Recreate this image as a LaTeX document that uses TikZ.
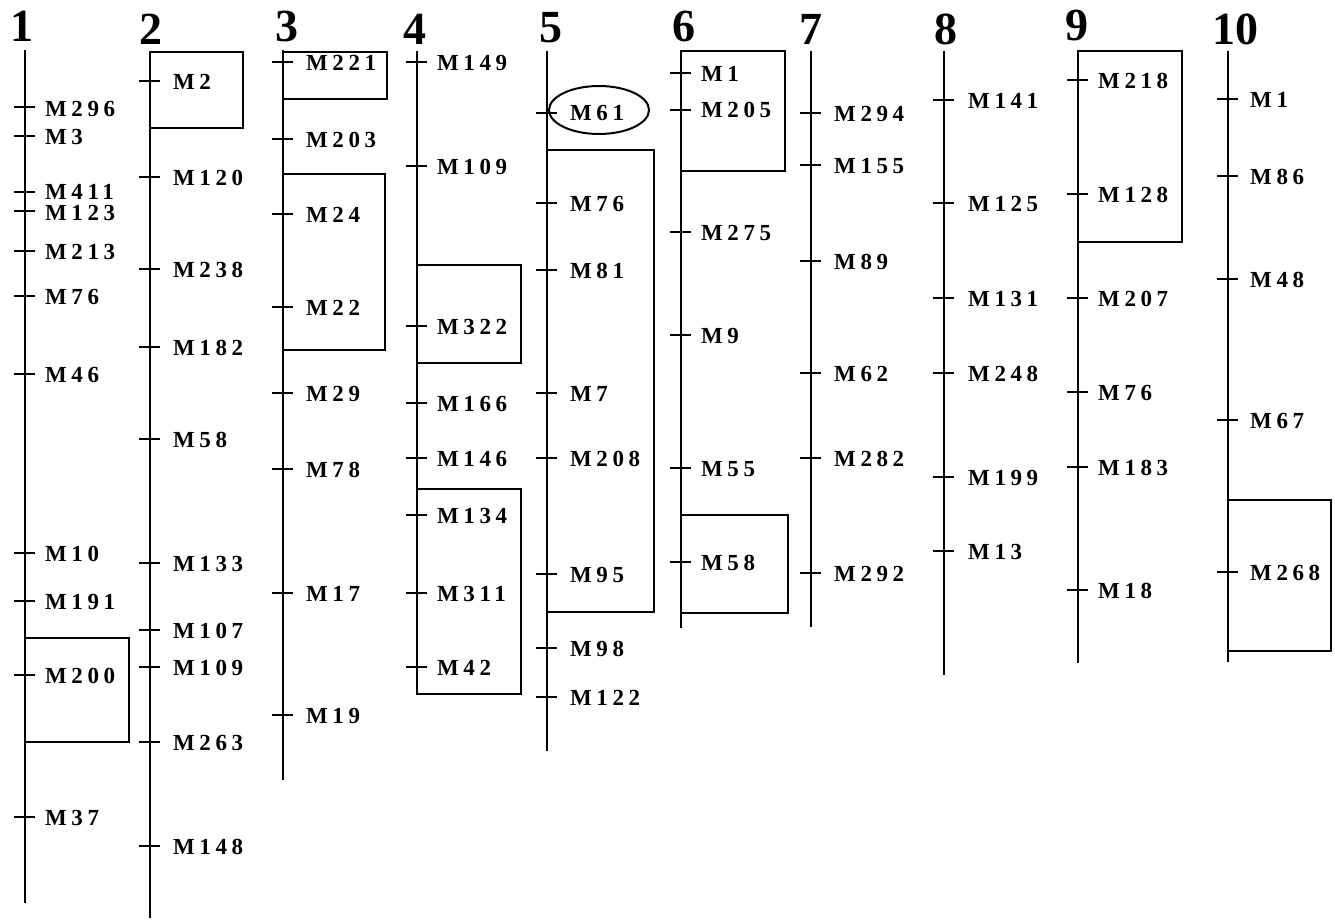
\documentclass[tikz,border=0pt]{standalone}
\usepackage{fontspec}
\setmainfont{Liberation Serif}
\newfontfamily\labfont[LetterSpace=20]{Liberation Serif}
\begin{document}
\begin{tikzpicture}[x=1pt,y=-1pt,
  chromline/.style={line width=2.8pt},
  tickline/.style={line width=2pt},
  regionbox/.style={line width=2pt},
  lab/.style={anchor=west,inner sep=0pt,font=\labfont\fontsize{23}{23}\selectfont\bfseries},
  head/.style={anchor=base,inner sep=0pt,font=\fontsize{46}{46}\selectfont\bfseries}]
\useasboundingbox (0,0) rectangle (1335,920);
% headers
\foreach \n/\hx/\hy in {1/22/42,2/151/45,3/287/42,4/415/45,5/551/43,6/684/42,7/811/45,8/946/45,9/1077/41,10/1235/45}
  \node[head] (h\n) at (\hx,\hy) {\n};
% chromosome lines
\foreach \n/\cx/\ta/\tb in {1/25/50/903,2/150/52/918,3/283/50/780,4/417/51/694,5/547/51/751,6/681/51/628,7/811/51/627,8/944/51/675,9/1078/51/663,10/1228/51/662}
  \draw[chromline] (\cx,\ta) -- (\cx,\tb);
% boxes
\draw[regionbox] (25,638) rectangle (129,742);
\draw[regionbox] (150,52) rectangle (243,128);
\draw[regionbox] (283,52) rectangle (387,99);
\draw[regionbox] (283,174) rectangle (385,350);
\draw[regionbox] (417,265) rectangle (521,363);
\draw[regionbox] (417,489) rectangle (521,694);
\draw[regionbox] (547,150) rectangle (654,612);
\draw[regionbox] (681,51) rectangle (785,171);
\draw[regionbox] (681,515) rectangle (788,613);
\draw[regionbox] (1078,51) rectangle (1182,242);
\draw[regionbox] (1228,500) rectangle (1331,651);
\draw[regionbox] (599,110) ellipse [x radius=50, y radius=24];
% markers: #1 chromosome, #2 line x, #3 label offset, #4 list tick-y/label-y/text
\newcommand\markers[4]{%
  \foreach \y/\ly/\t in {#4} {
    \draw[tickline] (#2-11,\y) -- (#2+10,\y);
    \node[lab] (m#1-\t) at (#2+#3,\ly) {\t};
  }}
\markers{1}{25}{20}{107/109/M296,136/137/M3,192/192/M411,211/213/M123,251/252/M213,296/297/M76,374/375/M46,553/554/M10,601/602/M191,675/676/M200,817/818/M37}
\markers{2}{150}{23}{81/82/M2,177/178/M120,269/270/M238,347/348/M182,439/440/M58,563/564/M133,630/631/M107,667/668/M109,742/743/M263,846/847/M148}
\markers{3}{283}{23}{62/63/M221,139/140/M203,214/215/M24,307/308/M22,393/394/M29,469/470/M78,593/594/M17,715/716/M19}
\markers{4}{417}{20}{62/63/M149,166/167/M109,326/327/M322,403/404/M166,458/459/M146,515/516/M134,593/594/M311,667/668/M42}
\markers{5}{547}{23}{113/113/M61,203/204/M76,270/271/M81,393/394/M7,458/459/M208,574/575/M95,648/649/M98,697/698/M122}
\markers{6}{681}{20}{73/74/M1,110/110/M205,232/233/M275,335/336/M9,468/469/M55,562/563/M58}
\markers{7}{811}{23}{113/114/M294,165/166/M155,261/262/M89,373/374/M62,458/459/M282,573/574/M292}
\markers{8}{944}{24}{100/101/M141,203/204/M125,298/299/M131,373/374/M248,477/478/M199,551/552/M13}
\markers{9}{1078}{20}{80/81/M218,194/195/M128,298/299/M207,392/393/M76,467/468/M183,590/591/M18}
\markers{10}{1228}{22}{99/100/M1,176/177/M86,279/280/M48,420/421/M67,572/573/M268}
\end{tikzpicture}
\end{document}
